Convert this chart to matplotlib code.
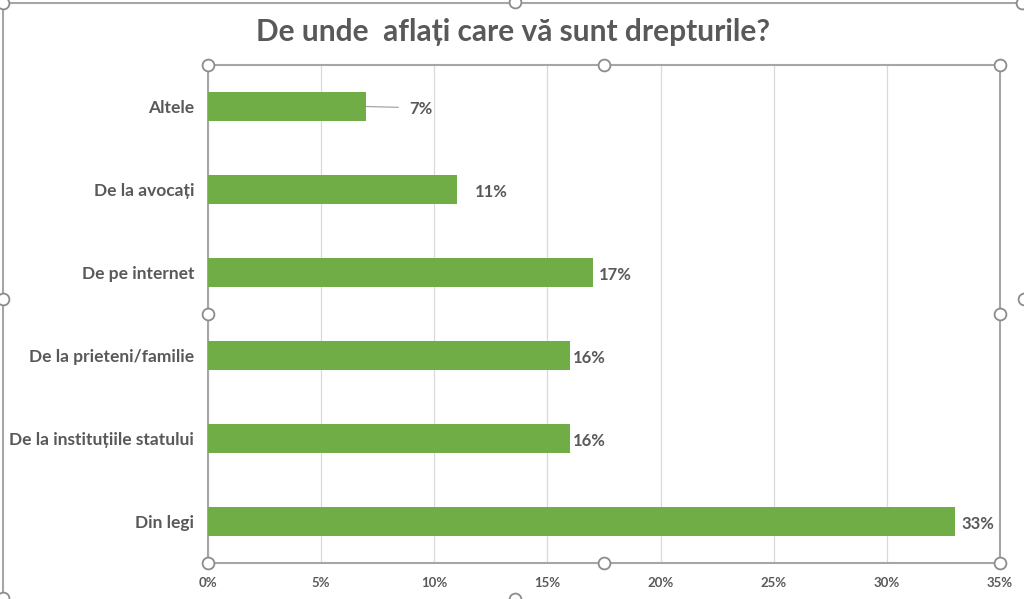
"""
Horizontal bar chart: De unde aflati care va sunt drepturile?
"""

import matplotlib
matplotlib.use('Agg')
import matplotlib.pyplot as plt
from matplotlib.lines import Line2D
from matplotlib.ticker import PercentFormatter

#---------------------------------------------------------------------------------------------------
# Data
#---------------------------------------------------------------------------------------------------

categories = ['Din legi', 'De la instituțiile statului', 'De la prieteni/familie',
              'De pe internet', 'De la avocați', 'Altele']
values = [33, 16, 16, 17, 11, 7]
labels = ['33%', '16%', '16%', '17%', '11%', '7%']
xticks = [0, 5, 10, 15, 20, 25, 30, 35]

# gap between bar end and data label (in % units), labels were nudged by hand
label_gap = [0.3, 0.13, 0.13, 0.27, 0.8, 1.9]

title = 'De unde  aflați care vă sunt drepturile?'

bar_color = '#70AD47'
text_color = '#595959'
frame_color = '#A6A6A6'

plt.rcParams['font.family'] = ['Lato', 'DejaVu Sans']

W, H = 1024, 599

def fx(px):
    return px / W

def fy(py):
    return 1 - py / H

#---------------------------------------------------------------------------------------------------
# Plot
#---------------------------------------------------------------------------------------------------

fig = plt.figure(figsize=(10.24, 5.99), dpi=100)
ax = fig.add_axes([fx(208), fy(563), fx(1000) - fx(208), fy(65) - fy(563)])

ypos = list(range(len(categories)))
ax.barh(ypos, values, height=0.35, color=bar_color, zorder=3)

ax.set_xlim(0, 35)
ax.set_ylim(-0.5, len(categories) - 0.5)
ax.set_xticks(xticks)
ax.xaxis.set_major_formatter(PercentFormatter(decimals=0))
ax.set_yticks(ypos)
ax.set_yticklabels(categories)
ax.tick_params(axis='both', length=0, colors=text_color)
ax.tick_params(axis='y', pad=10)
ax.tick_params(axis='x', pad=10)
for lbl in ax.get_yticklabels():
    lbl.set_fontsize(12.5)
    lbl.set_fontweight('bold')
for lbl in ax.get_xticklabels():
    lbl.set_fontsize(9.5)
    lbl.set_fontweight('bold')

ax.grid(axis='x', color='#D9D9D9', linewidth=0.9, zorder=0)
for s in ax.spines.values():
    s.set_color(frame_color)
    s.set_linewidth(1.5)

# data labels
for y, v, lab, gap in zip(ypos, values, labels, label_gap):
    if gap > 1:
        # label pulled away with a leader line
        ax.plot([v, v + 1.4], [y, y - 0.01], color='#A6A6A6', linewidth=0.9, zorder=4)
    ax.text(v + gap, y - 0.03, lab, va='center', ha='left', fontsize=12, fontweight='bold',
            color=text_color)

fig.suptitle(title, x=fx(513), y=fy(32), va='center', fontsize=21.5, fontweight='bold',
             color=text_color)

# chart frame and selection handles
fig.add_artist(Line2D([fx(3), fx(1024)], [fy(3), fy(3)], color=frame_color, linewidth=1.5))
fig.add_artist(Line2D([fx(3), fx(3)], [fy(3), fy(599)], color=frame_color, linewidth=1.5))

outer_handles = [(3, 3), (515, 2), (1022, 3), (3, 299), (1024, 299), (3, 598), (515, 599)]
inner_handles = [(208, 65), (604, 65), (1000, 65), (208, 314), (1000, 314),
                 (208, 563), (604, 563), (1000, 563)]
for hx, hy in outer_handles + inner_handles:
    fig.add_artist(Line2D([fx(hx)], [fy(hy)], marker='o', markersize=8.5, markerfacecolor='white',
                          markeredgecolor='#8C8C8C', markeredgewidth=1.3, linestyle='none'))

plt.savefig('out.png', dpi=100)
